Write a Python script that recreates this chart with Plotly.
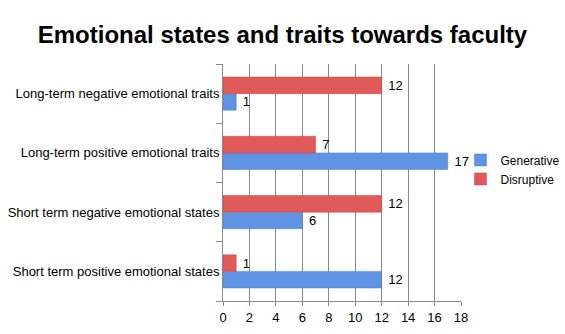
import plotly.graph_objects as go

categories = [
    "Short term positive emotional states",
    "Short term negative emotional states",
    "Long-term positive emotional traits",
    "Long-term negative emotional traits",
]
generative = [12, 6, 17, 1]
disruptive = [1, 12, 7, 12]
x_ticks = [0, 2, 4, 6, 8, 10, 12, 14, 16, 18]

FONT = "Liberation Sans, Arial, sans-serif"

fig = go.Figure()
fig.add_trace(go.Bar(
    y=categories, x=generative, name="Generative", orientation="h",
    marker=dict(color="#5f93e3", line=dict(color="#4a7fd0", width=0.5)),
    text=[" " + str(v) for v in generative], textposition="outside",
    textfont=dict(family=FONT, size=13, color="#000"), cliponaxis=False,
))
fig.add_trace(go.Bar(
    y=categories, x=disruptive, name="Disruptive", orientation="h",
    marker=dict(color="#e05a5a", line=dict(color="#cc4545", width=0.5)),
    text=[" " + str(v) for v in disruptive], textposition="outside",
    textfont=dict(family=FONT, size=13, color="#000"), cliponaxis=False,
))

fig.update_layout(
    width=565, height=334,
    margin=dict(l=223, r=104, t=64, b=33, autoexpand=False),
    paper_bgcolor="white", plot_bgcolor="white",
    barmode="group", bargap=0.44, bargroupgap=0,
    title=dict(text="<b>Emotional states and traits towards faculty</b>",
               x=0.5, xanchor="center", y=0.895, yanchor="middle",
               font=dict(family=FONT, size=24, color="#000")),
    font=dict(family=FONT, size=12, color="#000"),
    legend=dict(xref="container", x=0.815, y=0.555, xanchor="left", yanchor="middle",
                bgcolor="rgba(0,0,0,0)",
                font=dict(family=FONT, size=12, color="#000"),
                itemwidth=30, tracegroupgap=4),
    showlegend=True,
    xaxis=dict(range=[0, 18], tickvals=x_ticks, showgrid=True,
               gridcolor="#8a8a8a", gridwidth=1, showline=True,
               linecolor="#8a8a8a", ticks="outside", ticklen=4,
               tickcolor="#8a8a8a", tickfont=dict(family=FONT, size=13, color="#000"),
               zeroline=False, mirror=False),
    yaxis=dict(showline=True, linecolor="#8a8a8a", ticks="outside", ticklen=6,
               tickcolor="#8a8a8a", tickson="boundaries",
               tickfont=dict(family=FONT, size=13, color="#000"),
               showgrid=False, categoryorder="array", categoryarray=categories),
)

fig.write_html("out.html")
